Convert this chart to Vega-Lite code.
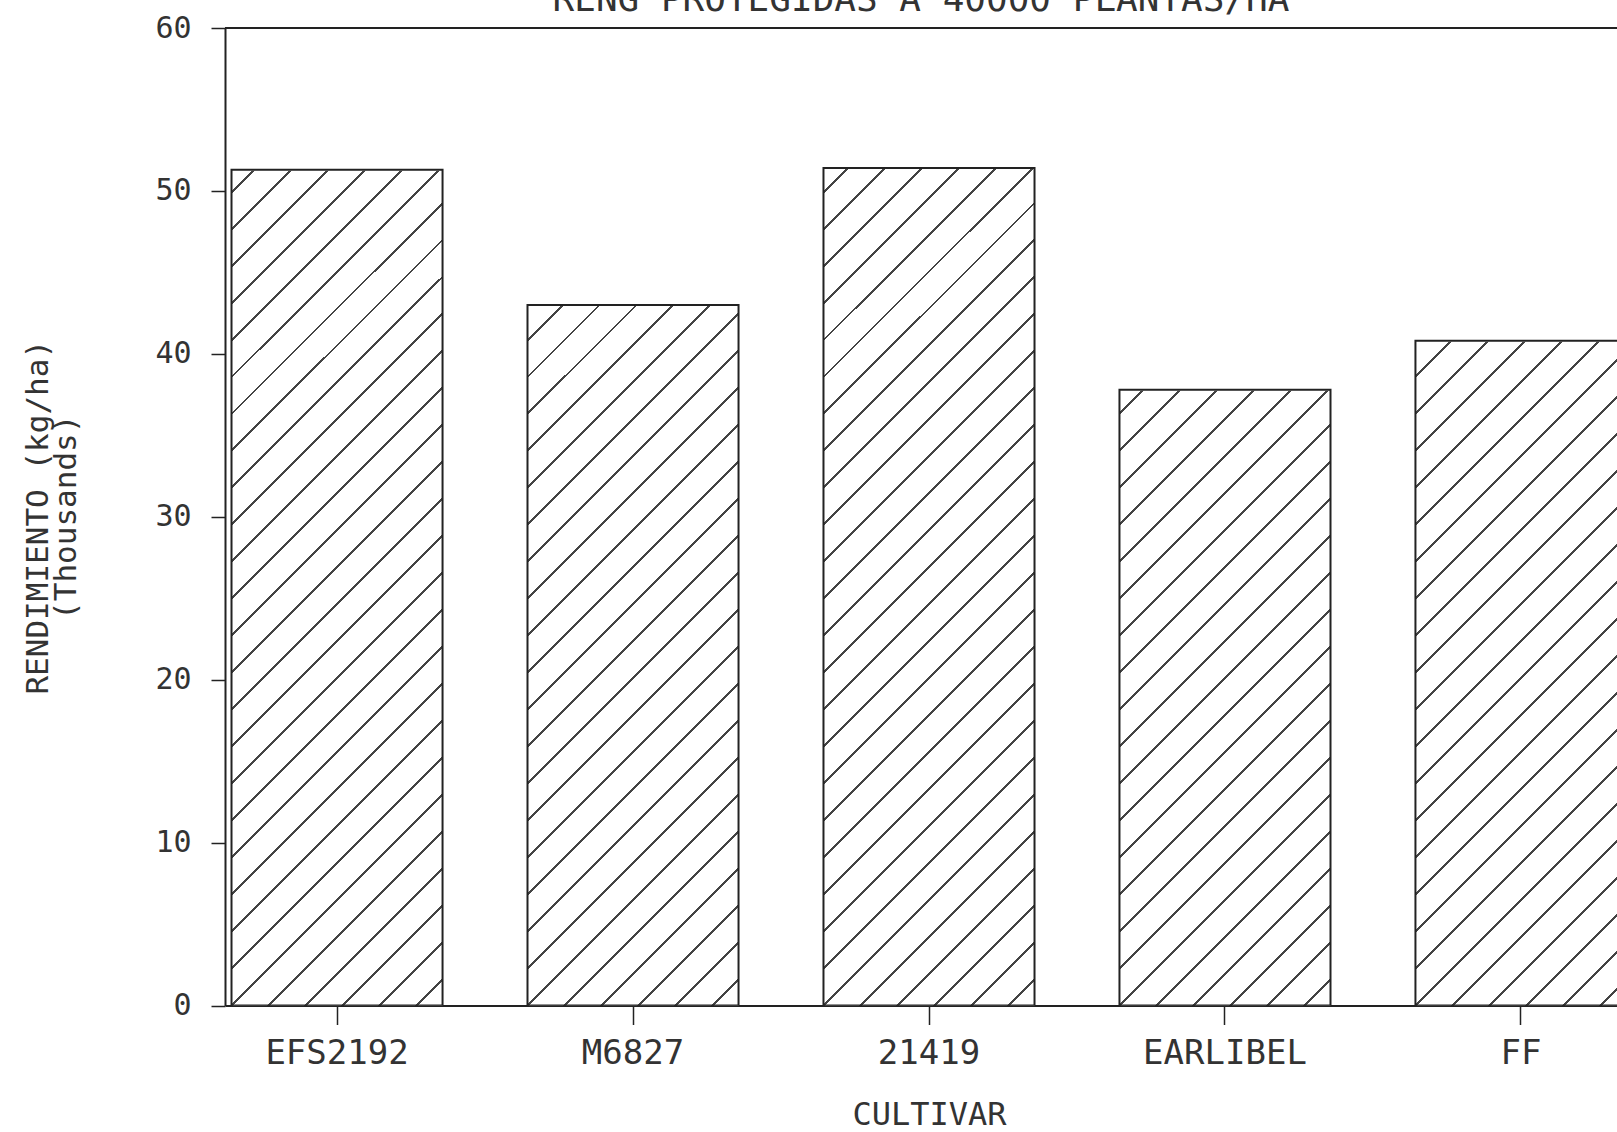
{
  "$schema": "https://vega.github.io/schema/vega-lite/v6.json",
  "autosize": {"type": "none"},
  "width": 1392,
  "height": 977.5,
  "padding": {"left": 225, "top": 28, "right": 0, "bottom": 126.5},
  "background": "white",
  "title": {"text": "RENG PROTEGIDAS A 40000 PLANTAS/HA", "font": "DejaVu Sans Mono", "fontSize": 36, "fontWeight": "normal", "color": "#333", "baseline": "alphabetic", "frame": "group", "offset": 0, "dy": 34, "anchor": "middle"},
  "data": {"values": [
    {"cultivar": "EFS2192", "rendimiento": 51.3},
    {"cultivar": "M6827", "rendimiento": 43.0},
    {"cultivar": "21419", "rendimiento": 51.4},
    {"cultivar": "EARLIBEL", "rendimiento": 37.8},
    {"cultivar": "FF", "rendimiento": 40.8}
  ]},
  "layer": [
    {
      "mark": {"type": "bar", "clip": true, "stroke": null, "fill": {"gradient": "linear", "x1": 0, "y1": 0, "x2": 0.26, "y2": 1.2046, "stops": [
        {"offset": 0, "color": "#fff"},
        {"offset": 0.012, "color": "#fff"}, {"offset": 0.012, "color": "#444"}, {"offset": 0.0144, "color": "#444"}, {"offset": 0.0144, "color": "#fff"},
        {"offset": 0.042, "color": "#fff"}, {"offset": 0.042, "color": "#444"}, {"offset": 0.0444, "color": "#444"}, {"offset": 0.0444, "color": "#fff"},
        {"offset": 0.072, "color": "#fff"}, {"offset": 0.072, "color": "#444"}, {"offset": 0.0744, "color": "#444"}, {"offset": 0.0744, "color": "#fff"},
        {"offset": 0.102, "color": "#fff"}, {"offset": 0.102, "color": "#444"}, {"offset": 0.1044, "color": "#444"}, {"offset": 0.1044, "color": "#fff"},
        {"offset": 0.132, "color": "#fff"}, {"offset": 0.132, "color": "#444"}, {"offset": 0.1344, "color": "#444"}, {"offset": 0.1344, "color": "#fff"},
        {"offset": 0.162, "color": "#fff"}, {"offset": 0.162, "color": "#444"}, {"offset": 0.1644, "color": "#444"}, {"offset": 0.1644, "color": "#fff"},
        {"offset": 0.192, "color": "#fff"}, {"offset": 0.192, "color": "#444"}, {"offset": 0.1944, "color": "#444"}, {"offset": 0.1944, "color": "#fff"},
        {"offset": 0.222, "color": "#fff"}, {"offset": 0.222, "color": "#444"}, {"offset": 0.2244, "color": "#444"}, {"offset": 0.2244, "color": "#fff"},
        {"offset": 0.252, "color": "#fff"}, {"offset": 0.252, "color": "#444"}, {"offset": 0.2544, "color": "#444"}, {"offset": 0.2544, "color": "#fff"},
        {"offset": 0.282, "color": "#fff"}, {"offset": 0.282, "color": "#444"}, {"offset": 0.2844, "color": "#444"}, {"offset": 0.2844, "color": "#fff"},
        {"offset": 0.312, "color": "#fff"}, {"offset": 0.312, "color": "#444"}, {"offset": 0.3144, "color": "#444"}, {"offset": 0.3144, "color": "#fff"},
        {"offset": 0.342, "color": "#fff"}, {"offset": 0.342, "color": "#444"}, {"offset": 0.3444, "color": "#444"}, {"offset": 0.3444, "color": "#fff"},
        {"offset": 0.372, "color": "#fff"}, {"offset": 0.372, "color": "#444"}, {"offset": 0.3744, "color": "#444"}, {"offset": 0.3744, "color": "#fff"},
        {"offset": 0.402, "color": "#fff"}, {"offset": 0.402, "color": "#444"}, {"offset": 0.4044, "color": "#444"}, {"offset": 0.4044, "color": "#fff"},
        {"offset": 0.432, "color": "#fff"}, {"offset": 0.432, "color": "#444"}, {"offset": 0.4344, "color": "#444"}, {"offset": 0.4344, "color": "#fff"},
        {"offset": 0.462, "color": "#fff"}, {"offset": 0.462, "color": "#444"}, {"offset": 0.4644, "color": "#444"}, {"offset": 0.4644, "color": "#fff"},
        {"offset": 0.492, "color": "#fff"}, {"offset": 0.492, "color": "#444"}, {"offset": 0.4944, "color": "#444"}, {"offset": 0.4944, "color": "#fff"},
        {"offset": 0.522, "color": "#fff"}, {"offset": 0.522, "color": "#444"}, {"offset": 0.5244, "color": "#444"}, {"offset": 0.5244, "color": "#fff"},
        {"offset": 0.552, "color": "#fff"}, {"offset": 0.552, "color": "#444"}, {"offset": 0.5544, "color": "#444"}, {"offset": 0.5544, "color": "#fff"},
        {"offset": 0.582, "color": "#fff"}, {"offset": 0.582, "color": "#444"}, {"offset": 0.5844, "color": "#444"}, {"offset": 0.5844, "color": "#fff"},
        {"offset": 0.612, "color": "#fff"}, {"offset": 0.612, "color": "#444"}, {"offset": 0.6144, "color": "#444"}, {"offset": 0.6144, "color": "#fff"},
        {"offset": 0.642, "color": "#fff"}, {"offset": 0.642, "color": "#444"}, {"offset": 0.6444, "color": "#444"}, {"offset": 0.6444, "color": "#fff"},
        {"offset": 0.672, "color": "#fff"}, {"offset": 0.672, "color": "#444"}, {"offset": 0.6744, "color": "#444"}, {"offset": 0.6744, "color": "#fff"},
        {"offset": 0.702, "color": "#fff"}, {"offset": 0.702, "color": "#444"}, {"offset": 0.7044, "color": "#444"}, {"offset": 0.7044, "color": "#fff"},
        {"offset": 0.732, "color": "#fff"}, {"offset": 0.732, "color": "#444"}, {"offset": 0.7344, "color": "#444"}, {"offset": 0.7344, "color": "#fff"},
        {"offset": 0.762, "color": "#fff"}, {"offset": 0.762, "color": "#444"}, {"offset": 0.7644, "color": "#444"}, {"offset": 0.7644, "color": "#fff"},
        {"offset": 0.792, "color": "#fff"}, {"offset": 0.792, "color": "#444"}, {"offset": 0.7944, "color": "#444"}, {"offset": 0.7944, "color": "#fff"},
        {"offset": 0.822, "color": "#fff"}, {"offset": 0.822, "color": "#444"}, {"offset": 0.8244, "color": "#444"}, {"offset": 0.8244, "color": "#fff"},
        {"offset": 0.852, "color": "#fff"}, {"offset": 0.852, "color": "#444"}, {"offset": 0.8544, "color": "#444"}, {"offset": 0.8544, "color": "#fff"},
        {"offset": 0.882, "color": "#fff"}, {"offset": 0.882, "color": "#444"}, {"offset": 0.8844, "color": "#444"}, {"offset": 0.8844, "color": "#fff"},
        {"offset": 0.912, "color": "#fff"}, {"offset": 0.912, "color": "#444"}, {"offset": 0.9144, "color": "#444"}, {"offset": 0.9144, "color": "#fff"},
        {"offset": 0.942, "color": "#fff"}, {"offset": 0.942, "color": "#444"}, {"offset": 0.9444, "color": "#444"}, {"offset": 0.9444, "color": "#fff"},
        {"offset": 1, "color": "#fff"}
      ]}},
      "encoding": {
        "x": {"field": "cultivar", "type": "nominal", "sort": null, "title": "CULTIVAR", "scale": {"range": [0, 1408], "paddingInner": 0.287, "paddingOuter": 0.022}},
        "y": {"datum": 60, "type": "quantitative", "title": ["RENDIMIENTO (kg/ha)", "(Thousands)"], "scale": {"domain": [0, 60], "nice": false}, "axis": {"values": [0, 10, 20, 30, 40, 50, 60]}},
        "y2": {"datum": 0}
      }
    },
    {
      "mark": {"type": "bar", "clip": true, "fill": "white", "stroke": "white", "strokeWidth": 2},
      "encoding": {
        "x": {"field": "cultivar", "type": "nominal", "sort": null, "title": "CULTIVAR"},
        "y": {"field": "rendimiento", "type": "quantitative", "title": ["RENDIMIENTO (kg/ha)", "(Thousands)"]},
        "y2": {"datum": 60}
      }
    },
    {
      "mark": {"type": "bar", "clip": true, "fill": null, "fillOpacity": 0, "stroke": "#222", "strokeWidth": 2},
      "encoding": {
        "x": {"field": "cultivar", "type": "nominal", "sort": null, "title": "CULTIVAR"},
        "y": {"field": "rendimiento", "type": "quantitative", "title": ["RENDIMIENTO (kg/ha)", "(Thousands)"]},
        "y2": {"datum": 0}
      }
    },
    {
      "mark": {"type": "rule", "color": "#222", "strokeWidth": 2},
      "encoding": {
        "y": {"datum": 60, "type": "quantitative", "title": ["RENDIMIENTO (kg/ha)", "(Thousands)"]}
      }
    }
  ],
  "config": {
    "view": {"stroke": null},
    "axisX": {"domainColor": "#222", "domainWidth": 2, "tickColor": "#222", "tickWidth": 1.5, "tickSize": 19, "labelFont": "DejaVu Sans Mono", "labelFontSize": 34, "labelColor": "#333", "labelPadding": 12, "labelAngle": 0, "titleFont": "DejaVu Sans Mono", "titleFontSize": 32, "titleFontWeight": "normal", "titleColor": "#333", "titlePadding": 29, "titleX": 704, "grid": false},
    "axisY": {"domainColor": "#222", "domainWidth": 2, "tickColor": "#222", "tickWidth": 1.5, "tickSize": 14, "labelFont": "DejaVu Sans Mono", "labelFontSize": 30, "labelColor": "#333", "labelPadding": 20, "titleFont": "DejaVu Sans Mono", "titleFontSize": 31, "titleFontWeight": "normal", "titleColor": "#333", "titlePadding": 72, "titleLineHeight": 28, "grid": false}
  }
}
